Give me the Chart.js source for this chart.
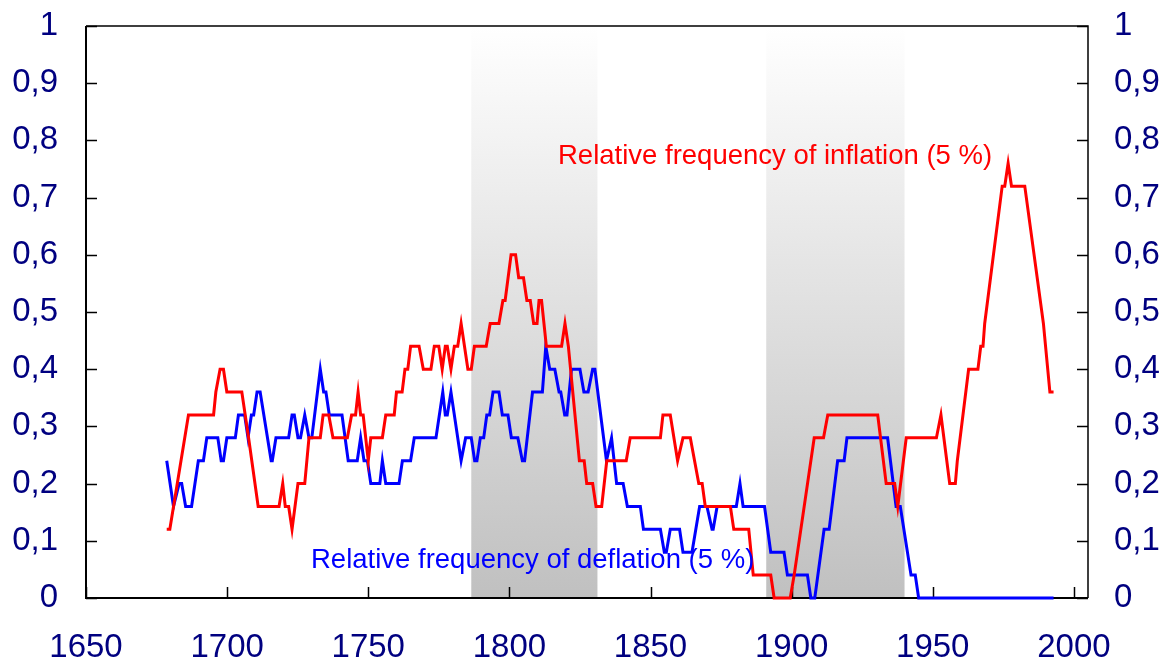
<!DOCTYPE html>
<html>
<head>
<meta charset="utf-8">
<title>Relative frequency of inflation and deflation</title>
<script src="https://cdn.jsdelivr.net/npm/chart.js@4.4.1/dist/chart.umd.min.js"></script>
<style>
  html, body { margin: 0; padding: 0; background: #ffffff; }
  canvas { display: block; }
</style>
</head>
<body>
<canvas id="chartCanvas" width="1169" height="664"></canvas>
<script>
// 数据: 年份与频率 (25年窗口)
const inflationYears = [
  1678.6, 1679.7, 1686.3, 1695.2, 1696, 1697.5, 1698.7, 1699.9, 1705.2, 1707.6,
  1711, 1718.4, 1719.7, 1720.6, 1721.8, 1723, 1725.1, 1727.5, 1729, 1733,
  1734, 1736, 1737.5, 1742.6, 1744.1, 1745.5, 1746.4, 1747.3, 1748.2, 1750,
  1750.9, 1755, 1756.2, 1759.2, 1760, 1762, 1763, 1764, 1765, 1768,
  1769.5, 1772.2, 1773.4, 1775, 1776.2, 1777.3, 1778, 1779.3, 1780.5, 1781.7,
  1782.9, 1785.3, 1786.5, 1787.6, 1791.8, 1793.2, 1796.3, 1797.7, 1798.5, 1800.6,
  1802.2, 1803.3, 1805, 1806.2, 1807.4, 1808.6, 1809.8, 1810.5, 1811.4, 1813.1,
  1818.5, 1819.7, 1820.9, 1824.8, 1826.5, 1827.4, 1829.5, 1830.7, 1832.7, 1834.5,
  1841.4, 1842.8, 1853.5, 1854.4, 1857, 1859.6, 1861.5, 1864.1, 1867.1, 1868.3,
  1869.4, 1878.3, 1879.5, 1884.8, 1886.4, 1892.6, 1893.8, 1899.5, 1900.9, 1908,
  1911.3, 1912.8, 1930.5, 1933.5, 1936.5, 1937.6, 1940.6, 1951.3, 1952.9, 1956,
  1958, 1958.7, 1962.7, 1966, 1967, 1967.8, 1968.4, 1974.6, 1975.5, 1976.7,
  1977.9, 1982.6, 1989.2, 1991.5, 1992.8
];
const inflationValues = [
  0.12, 0.12, 0.32, 0.32, 0.36, 0.40, 0.40, 0.36, 0.36, 0.28,
  0.16, 0.16, 0.20, 0.16, 0.16, 0.12, 0.20, 0.20, 0.28, 0.28,
  0.32, 0.32, 0.28, 0.28, 0.32, 0.32, 0.36, 0.32, 0.32, 0.24,
  0.28, 0.28, 0.32, 0.32, 0.36, 0.36, 0.40, 0.40, 0.44, 0.44,
  0.40, 0.40, 0.44, 0.44, 0.40, 0.44, 0.44, 0.40, 0.44, 0.44,
  0.48, 0.40, 0.40, 0.44, 0.44, 0.48, 0.48, 0.52, 0.52, 0.60,
  0.60, 0.56, 0.56, 0.52, 0.52, 0.48, 0.48, 0.52, 0.52, 0.44,
  0.44, 0.48, 0.44, 0.24, 0.24, 0.20, 0.20, 0.16, 0.16, 0.24,
  0.24, 0.28, 0.28, 0.32, 0.32, 0.24, 0.28, 0.28, 0.20, 0.20,
  0.16, 0.16, 0.12, 0.12, 0.04, 0.04, 0, 0, 0.04, 0.28,
  0.28, 0.32, 0.32, 0.20, 0.20, 0.16, 0.28, 0.28, 0.32, 0.20,
  0.20, 0.24, 0.40, 0.40, 0.44, 0.44, 0.48, 0.72, 0.72, 0.76,
  0.72, 0.72, 0.48, 0.36, 0.36
];

const deflationYears = [
  1678.6, 1681, 1683, 1683.9, 1685.3, 1687.4, 1689.8, 1691.6, 1692.8, 1696.7,
  1697.9, 1698.7, 1699.9, 1702.9, 1704, 1706.2, 1707.4, 1708.6, 1709.4, 1710.6,
  1711.7, 1715.6, 1716, 1717.3, 1721.8, 1723, 1723.8, 1725.1, 1726, 1727.5,
  1729, 1730, 1733, 1734.2, 1735, 1736.2, 1740.7, 1742.9, 1746.1, 1747.3,
  1748.5, 1749.7, 1750.9, 1754.1, 1755, 1756.2, 1760.9, 1762.1, 1765, 1766.3,
  1774, 1776.4, 1777.3, 1778, 1779.3, 1782.9, 1784.5, 1786.5, 1787.7, 1788.5,
  1789.7, 1790.9, 1792, 1793, 1794.2, 1796.3, 1797.5, 1799.5, 1800.7, 1803,
  1804.6, 1805.4, 1808.2, 1811.7, 1812.9, 1814.3, 1816.1, 1817.6, 1818.2, 1819.6,
  1820.4, 1822, 1825, 1826.4, 1827.9, 1829.5, 1830.3, 1834.4, 1836.2, 1838,
  1840.3, 1841.8, 1846.4, 1847.5, 1853.5, 1854.9, 1855.6, 1857, 1860.3, 1861.5,
  1864.7, 1867.4, 1870, 1871.8, 1872.2, 1873.6, 1880.4, 1881.7, 1882.8, 1890.4,
  1892.6, 1897.3, 1898.5, 1905.6, 1906.8, 1908.2, 1911.5, 1913.3, 1916.3, 1918.6,
  1919.6, 1934, 1937, 1938.5, 1942.3, 1943.8, 1945, 1992.8
];
const deflationValues = [
  0.24, 0.16, 0.20, 0.20, 0.16, 0.16, 0.24, 0.24, 0.28, 0.28,
  0.24, 0.24, 0.28, 0.28, 0.32, 0.32, 0.28, 0.32, 0.32, 0.36,
  0.36, 0.24, 0.24, 0.28, 0.28, 0.32, 0.32, 0.28, 0.28, 0.32,
  0.28, 0.28, 0.40, 0.36, 0.36, 0.32, 0.32, 0.24, 0.24, 0.28,
  0.24, 0.24, 0.20, 0.20, 0.24, 0.20, 0.20, 0.24, 0.24, 0.28,
  0.28, 0.36, 0.32, 0.32, 0.36, 0.24, 0.28, 0.28, 0.24, 0.24,
  0.28, 0.28, 0.32, 0.32, 0.36, 0.36, 0.32, 0.32, 0.28, 0.28,
  0.24, 0.24, 0.36, 0.36, 0.44, 0.40, 0.40, 0.36, 0.36, 0.32,
  0.32, 0.40, 0.40, 0.36, 0.36, 0.40, 0.40, 0.24, 0.28, 0.20,
  0.20, 0.16, 0.16, 0.12, 0.12, 0.08, 0.08, 0.12, 0.12, 0.08,
  0.08, 0.16, 0.16, 0.12, 0.12, 0.16, 0.16, 0.20, 0.16, 0.16,
  0.08, 0.08, 0.04, 0.04, 0, 0, 0.12, 0.12, 0.24, 0.24,
  0.28, 0.28, 0.16, 0.16, 0.04, 0.04, 0, 0
];

// 灰色阴影区间 (起始年, 结束年)
const bandStarts = [1786.5, 1891];
const bandEnds = [1831.2, 1940];

// 刻度
const xTicks = [1650, 1700, 1750, 1800, 1850, 1900, 1950, 2000];
const yTicks = [0, 0.1, 0.2, 0.3, 0.4, 0.5, 0.6, 0.7, 0.8, 0.9, 1];
const yTickLabels = ['0', '0,1', '0,2', '0,3', '0,4', '0,5', '0,6', '0,7', '0,8', '0,9', '1'];

const inflationLabel = 'Relative frequency of inflation (5 %)';
const deflationLabel = 'Relative frequency of deflation (5 %)';

const NAVY = '#000080';
Chart.defaults.font.family = "'Liberation Sans', Arial, sans-serif";

function toPoints(xs, ys) {
    return xs.map((x, i) => ({ x: x, y: ys[i] }));
}

// 阴影区, 边框, 向内刻度, 文字标注
const framePlugin = {
    id: 'frame',
    beforeDatasetsDraw(chart) {
        const ctx = chart.ctx;
        const area = chart.chartArea;
        const xs = chart.scales.x;
        const ys = chart.scales.y;
        ctx.save();
        const grad = ctx.createLinearGradient(0, area.top, 0, area.bottom);
        grad.addColorStop(0, '#ffffff');
        grad.addColorStop(1, '#c0c0c0');
        ctx.fillStyle = grad;
        bandStarts.forEach((start, i) => {
            const x1 = xs.getPixelForValue(start);
            const x2 = xs.getPixelForValue(bandEnds[i]);
            ctx.fillRect(x1, area.top, x2 - x1, area.bottom - area.top);
        });

        ctx.strokeStyle = '#000000';
        ctx.lineWidth = 1.5;
        ctx.beginPath();
        ctx.moveTo(area.left, area.top);
        ctx.lineTo(area.right, area.top);
        ctx.lineTo(area.right, area.bottom);
        ctx.stroke();
        ctx.lineWidth = 2;
        ctx.beginPath();
        ctx.moveTo(area.left, area.top);
        ctx.lineTo(area.left, area.bottom);
        ctx.lineTo(area.right, area.bottom);
        ctx.stroke();

        ctx.lineWidth = 1.5;
        ctx.beginPath();
        yTicks.forEach(v => {
            const y = Math.round(ys.getPixelForValue(v)) + 0.5;
            ctx.moveTo(area.left, y);
            ctx.lineTo(area.left + 11, y);
            ctx.moveTo(area.right - 11, y);
            ctx.lineTo(area.right, y);
        });
        xTicks.forEach(v => {
            const x = Math.round(xs.getPixelForValue(v)) + 0.5;
            ctx.moveTo(x, area.bottom);
            ctx.lineTo(x, area.bottom - 11);
        });
        ctx.stroke();
        ctx.restore();
    },
    afterDatasetsDraw(chart) {
        const ctx = chart.ctx;
        ctx.save();
        ctx.font = "27.5px 'Liberation Sans', Arial, sans-serif";
        ctx.textAlign = 'left';
        ctx.textBaseline = 'alphabetic';
        ctx.fillStyle = '#ff0000';
        ctx.fillText(inflationLabel, 558, 164);
        ctx.fillStyle = '#0000ff';
        ctx.fillText(deflationLabel, 311, 568);
        ctx.restore();
    }
};

function yAxis(position, width, padding) {
    return {
        type: 'linear',
        position: position,
        min: 0,
        max: 1,
        grid: { display: false, drawTicks: false },
        border: { display: false },
        afterBuildTicks: s => { s.ticks = yTicks.map(v => ({ value: v })); },
        afterFit: s => {
            s.width = width;
            s.paddingTop = 0;
            s.paddingBottom = 0;
        },
        ticks: {
            color: NAVY,
            font: { size: 33 },
            padding: padding,
            autoSkip: false,
            callback: (v, i) => yTickLabels[i]
        }
    };
}

window.addEventListener('load', function() {
    const canvas = document.getElementById('chartCanvas');
    new Chart(canvas, {
        type: 'line',
        data: {
            datasets: [
                {
                    label: 'inflation',
                    data: toPoints(inflationYears, inflationValues),
                    borderColor: '#ff0000',
                    borderWidth: 3,
                    pointRadius: 0,
                    tension: 0,
                    fill: false,
                    clip: false
                },
                {
                    label: 'deflation',
                    data: toPoints(deflationYears, deflationValues),
                    borderColor: '#0000ff',
                    borderWidth: 3,
                    pointRadius: 0,
                    tension: 0,
                    fill: false,
                    clip: false
                }
            ]
        },
        options: {
            responsive: false,
            animation: false,
            layout: { padding: { top: 26, left: 0, right: 0, bottom: 0 } },
            plugins: {
                legend: { display: false },
                tooltip: { enabled: false }
            },
            scales: {
                x: {
                    type: 'linear',
                    min: 1650,
                    max: 2005,
                    grid: { display: false, drawTicks: false },
                    border: { display: false },
                    afterBuildTicks: s => { s.ticks = xTicks.map(v => ({ value: v })); },
                    afterFit: s => {
                        s.height = 66;
                        s.paddingLeft = 0;
                        s.paddingRight = 0;
                    },
                    ticks: {
                        color: NAVY,
                        font: { size: 33 },
                        padding: 30,
                        maxRotation: 0,
                        autoSkip: false,
                        callback: v => String(v)
                    }
                },
                y: yAxis('left', 86, 28),
                y2: yAxis('right', 81, 26)
            }
        },
        plugins: [framePlugin]
    });
});
</script>
</body>
</html>
